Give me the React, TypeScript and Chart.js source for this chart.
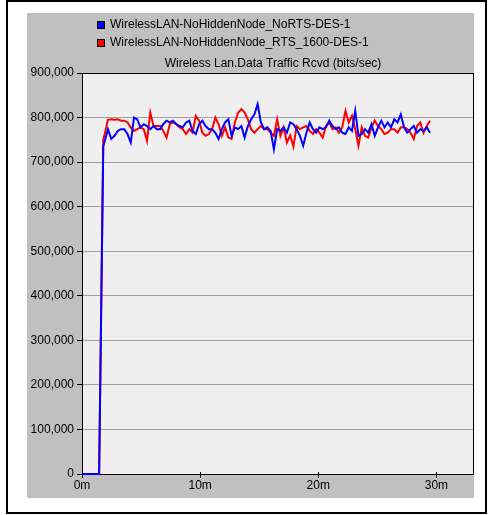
import React, { useEffect, useRef } from "react";
import { Chart, registerables } from "chart.js";

Chart.register(...registerables);

const legendLabels = [
  "WirelessLAN-NoHiddenNode_NoRTS-DES-1",
  "WirelessLAN-NoHiddenNode_RTS_1600-DES-1",
];
const chartTitle = "Wireless Lan.Data Traffic Rcvd (bits/sec)";
const seriesColors = ["#0000ff", "#ff0000"];
const xTickValues = [0, 10, 20, 30];

// start-up ramp (minutes, bits/sec)
const rampTimes = [0, 1.45, 1.8];
const rampNoRts = [0, 0, 735000];
const rampRts = [0, 0, 750000];

// regular samples after the ramp (minutes)
const sampleStart = 2.2;
const sampleStep = 0.2754;

const noRtsSamples = [
  774000, 752000, 759000, 770000, 774000, 774000, 763000, 744000, 800000, 796000, 778000, 785000, 781000, 774000, 781000, 774000,
  774000, 785000, 793000, 789000, 793000, 785000, 781000, 778000, 789000, 793000, 770000, 763000, 785000, 793000, 781000, 774000, 774000, 766000, 752000, 774000,
  789000, 796000, 759000, 778000, 774000, 781000, 755000, 781000, 796000, 807000, 830000, 789000, 774000, 778000, 770000, 729000, 774000, 770000, 778000, 766000,
  789000, 785000, 774000, 759000, 737000, 766000, 789000, 774000, 766000, 778000, 774000, 778000, 793000, 781000, 774000, 778000, 766000, 763000, 778000, 770000,
  815000, 759000, 763000, 774000, 766000, 785000, 759000, 778000, 793000, 778000, 789000, 778000, 796000, 789000, 807000, 778000, 766000, 774000, 781000, 766000, 774000, 770000, 778000, 766000,
];

const rtsSamples = [
  795000, 796000, 795000, 796000, 793000, 793000, 789000, 778000, 770000, 774000, 778000, 774000, 748000, 811000, 781000, 781000,
  781000, 770000, 755000, 785000, 789000, 785000, 778000, 774000, 763000, 774000, 766000, 804000, 793000, 766000, 759000, 763000, 774000, 800000, 785000, 759000,
  778000, 755000, 752000, 789000, 811000, 819000, 811000, 796000, 774000, 766000, 774000, 781000, 774000, 774000, 766000, 759000, 796000, 759000, 778000, 744000,
  760000, 735000, 781000, 774000, 778000, 781000, 770000, 763000, 774000, 766000, 755000, 781000, 789000, 774000, 778000, 766000, 778000, 815000, 789000, 804000,
  774000, 737000, 778000, 759000, 755000, 778000, 793000, 781000, 774000, 763000, 766000, 774000, 774000, 766000, 778000, 778000, 774000, 766000, 752000, 781000, 789000, 766000, 781000, 793000,
];

function buildPoints(ramp: number[], samples: number[]) {
  const pts = rampTimes.map((t, i) => ({ x: t, y: ramp[i] }));
  samples.forEach((v, i) => pts.push({ x: sampleStart + i * sampleStep, y: v }));
  return pts;
}

const FONT = "12px 'Liberation Sans', Arial, sans-serif";

const framePlugin = {
  id: "framePlugin",
  beforeDraw(chart: any) {
    const { ctx, chartArea: a, width, height } = chart;
    ctx.save();
    ctx.fillStyle = "#c0c0c0";
    ctx.fillRect(0, 0, width, height);
    ctx.fillStyle = "#efefef";
    ctx.fillRect(a.left, a.top, a.right - a.left, a.bottom - a.top);
    ctx.restore();
  },
  beforeDatasetsDraw(chart: any) {
    const { ctx, chartArea: a, scales } = chart;
    ctx.save();
    ctx.strokeStyle = "#000";
    ctx.lineWidth = 1;
    ctx.strokeRect(a.left + 0.5, a.top + 0.5, a.right - a.left, a.bottom - a.top);
    ctx.beginPath();
    xTickValues.forEach((v) => {
      const px = Math.round(scales.x.getPixelForValue(v)) + 0.5;
      ctx.moveTo(px, a.bottom - 2);
      ctx.lineTo(px, a.bottom + 4);
    });
    ctx.stroke();
    ctx.restore();
  },
  afterDraw(chart: any) {
    const { ctx } = chart;
    ctx.save();
    ctx.font = FONT;
    ctx.textBaseline = "middle";
    const rows = [12, 29.5];
    legendLabels.forEach((label, i) => {
      const cy = rows[i];
      ctx.fillStyle = seriesColors[i];
      ctx.fillRect(70, Math.round(cy - 4), 8, 8);
      ctx.strokeStyle = "#000";
      ctx.lineWidth = 1;
      ctx.strokeRect(70.5, Math.round(cy - 4) + 0.5, 7, 7);
      ctx.fillStyle = "#000";
      ctx.textAlign = "left";
      ctx.fillText(label, 83, cy);
    });
    ctx.textAlign = "center";
    ctx.fillStyle = "#000";
    ctx.fillText(chartTitle, 246, 50.5);
    ctx.restore();
  },
};

export default function App() {
  const ref = useRef<HTMLCanvasElement | null>(null);

  useEffect(() => {
    if (!ref.current) return;
    const tickFont = { family: "'Liberation Sans', Arial, sans-serif", size: 12 };
    const chart = new Chart(ref.current, {
      type: "line",
      data: {
        datasets: [
          {
            label: legendLabels[0],
            data: buildPoints(rampNoRts, noRtsSamples),
            borderColor: seriesColors[0],
            backgroundColor: seriesColors[0],
            borderWidth: 2,
            pointRadius: 0,
            tension: 0,
            fill: false,
            clip: false as any,
          },
          {
            label: legendLabels[1],
            data: buildPoints(rampRts, rtsSamples),
            borderColor: seriesColors[1],
            backgroundColor: seriesColors[1],
            borderWidth: 2,
            pointRadius: 0,
            tension: 0,
            fill: false,
            clip: false as any,
          },
        ],
      },
      options: {
        animation: false,
        responsive: false,
        maintainAspectRatio: false,
        events: [],
        layout: { padding: { top: 60, left: 0, right: 1, bottom: 0 } },
        plugins: {
          legend: { display: false },
          title: { display: false },
          tooltip: { enabled: false },
        },
        scales: {
          x: {
            type: "linear",
            min: 0,
            max: 33.1,
            afterFit: (s: any) => {
              s.height = 24;
            },
            afterBuildTicks: (s: any) => {
              s.ticks = xTickValues.map((v) => ({ value: v }));
            },
            grid: { display: false, drawTicks: false },
            border: { display: false },
            ticks: {
              autoSkip: false,
              maxRotation: 0,
              padding: 4,
              color: "#000",
              font: tickFont,
              callback: (v: any) => `${v}m`,
            },
          },
          y: {
            min: 0,
            max: 900000,
            afterFit: (s: any) => {
              s.width = 55;
            },
            grid: { color: "#a0a0a0", tickColor: "#000", tickLength: 5, lineWidth: 1 },
            border: { display: false },
            ticks: {
              stepSize: 100000,
              padding: 3,
              color: "#000",
              font: tickFont,
              callback: (v: any) => Number(v).toLocaleString("en-US"),
            },
          },
        },
      },
      plugins: [framePlugin],
    });
    return () => chart.destroy();
  }, []);

  return (
    <div style={{ position: "fixed", left: 0, top: 0, width: 491, height: 515, background: "#fff" }}>
      <div
        style={{
          position: "absolute",
          left: 6,
          top: 0,
          width: 481,
          height: 514,
          boxSizing: "border-box",
          border: "2px solid #000",
        }}
      />
      <canvas
        ref={ref}
        width={447}
        height={485}
        style={{ position: "absolute", left: 27, top: 13, width: 447, height: 485 }}
      />
    </div>
  );
}
